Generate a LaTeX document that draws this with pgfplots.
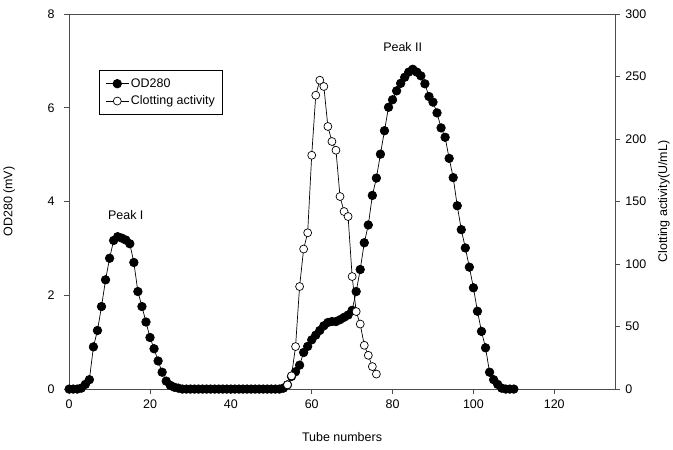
\documentclass[border=0pt]{standalone}
\usepackage{pgfplots}
\pgfplotsset{compat=1.18}
\usepackage{pgfplotstable}
\usepackage{fontspec}
\setmainfont{Liberation Sans}

\pgfplotstableread{
x y
0 0
1 0
2 0
3 0.02
4 0.1
5 0.2
6 0.9
7 1.25
8 1.76
9 2.33
10 2.79
11 3.17
12 3.25
13 3.22
14 3.18
15 3.1
16 2.7
17 2.08
18 1.76
19 1.43
20 1.1
21 0.86
22 0.6
23 0.36
24 0.17
25 0.08
26 0.04
27 0.02
28 0
29 0
30 0
31 0
32 0
33 0
34 0
35 0
36 0
37 0
38 0
39 0
40 0
41 0
42 0
43 0
44 0
45 0
46 0
47 0
48 0
49 0
50 0
51 0
52 0
53 0.02
54 0.09
55 0.27
56 0.37
57 0.51
58 0.78
59 0.91
60 1.05
61 1.15
62 1.25
63 1.35
64 1.42
65 1.44
66 1.44
67 1.48
68 1.53
69 1.58
70 1.68
71 2.08
72 2.55
73 3.12
74 3.5
75 4.13
76 4.5
77 5.01
78 5.51
79 6.01
80 6.17
81 6.36
82 6.52
83 6.65
84 6.76
85 6.82
86 6.76
87 6.68
88 6.51
89 6.24
90 6.12
91 5.89
92 5.57
93 5.37
94 4.92
95 4.51
96 3.91
97 3.4
98 3.01
99 2.6
100 2.16
101 1.66
102 1.23
103 0.88
104 0.36
105 0.2
106 0.1
107 0.02
108 0
109 0
110 0
}\odtable

\pgfplotstableread{
x y
54 3.4
55 10.6
56 34
57 82
58 112
59 125
60 187
61 235
62 247
63 242
64 210
65 198
66 191
67 154
68 142
69 138
70 90
71 62
72 52
73 35
74 27
75 18
76 12
}\clottable

\begin{document}
\begin{tikzpicture}
\pgfplotsset{
  every axis/.append style={
    scale only axis, width=547pt, height=376pt,
    xmin=0, xmax=135,
    tick align=outside, major tick length=5pt,
    axis line style={black!70, line width=0.8pt}, tick style={black!70, line width=0.8pt},
    tick label style={font=\fontsize{12.5}{14}\selectfont},
    label style={font=\fontsize{12.5}{14}\selectfont},
    /pgf/number format/assume math mode=true,
  }
}
\begin{axis}[
  ymin=0, ymax=8,
  xtick={0,20,...,120}, ytick={0,2,...,8},
  xtick pos=lower, ytick pos=left,
  xlabel={Tube numbers}, ylabel={OD280 (mV)},
  xlabel style={yshift=-17pt}, ylabel style={yshift=26pt},
  yticklabel style={xshift=-6pt}, xticklabel style={yshift=-2pt},
]
\addplot[black, line width=0.7pt, mark=*, mark size=4.3pt, mark options={fill=black}] table {\odtable};
\node[font=\fontsize{12.5}{14}\selectfont] at (axis cs:14,3.72) {Peak I};
\node[font=\fontsize{12.5}{14}\selectfont] at (axis cs:82.5,7.3) {Peak II};
\coordinate (top) at (rel axis cs:0,1);
\coordinate (bot) at (rel axis cs:0,0);
\end{axis}
\begin{axis}[
  ymin=0, ymax=300,
  ytick={0,50,...,300},
  axis x line=none, axis y line*=right,
  ylabel={Clotting activity(U/mL)},
  ylabel style={yshift=-5pt},
  yticklabel style={xshift=2pt},
  legend cell align=left,
  legend style={at={(0.055,0.85)}, anchor=north west, draw=black,
    font=\fontsize{12.5}{14}\selectfont, inner xsep=6pt, inner ysep=6pt,
    line width=0.8pt, row sep=3pt},
  legend image code/.code={\draw[#1, line width=0.7pt] (0cm,0cm) -- (0.8cm,0cm);
    \draw[#1, line width=0.7pt] plot coordinates {(0.4cm,0cm)};},
]
\addlegendimage{black, mark=*, mark size=4.3pt, mark options={fill=black}}
\addlegendentry{OD280}
\addplot[black, line width=0.7pt, mark=*, mark size=4pt, mark options={fill=white}] table {\clottable};
\addlegendentry{Clotting activity}
\end{axis}
\path (top) ++(0,14pt);
\path (bot) ++(0,-61pt);
\end{tikzpicture}
\end{document}
